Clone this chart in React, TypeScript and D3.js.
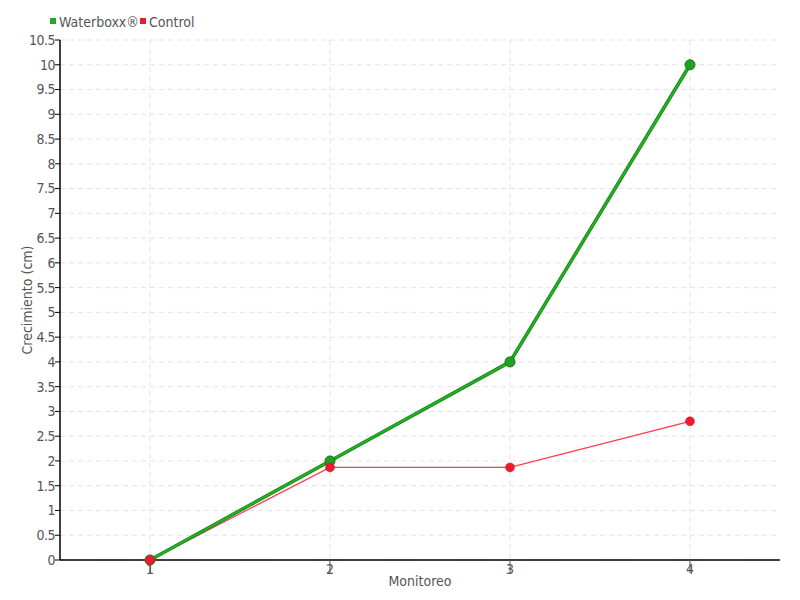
import React from "react";
import * as d3 from "d3";

const categories = ["1", "2", "3", "4"];
const waterboxx = [0, 2, 4, 10];
const control = [0, 1.87, 1.87, 2.8];
const yTicks = d3.range(0, 10.51, 0.5);

const W = 800, H = 600;
const left = 60, right = 780, top = 40, bottom = 560;
const font = "'DejaVu Sans Condensed', 'Liberation Sans Narrow', sans-serif";

export default function App() {
  const x = d3.scaleBand<string>().domain(categories).range([left, right]).padding(0);
  const y = d3.scaleLinear().domain([0, 10.5]).range([bottom, top]);
  const cx = (c: string) => (x(c) as number) + x.bandwidth() / 2;
  const line = d3.line<number>().x((_, i) => cx(categories[i])).y((d) => y(d));

  return (
    <svg width={W} height={H} style={{ position: "absolute", left: 0, top: 0 }} fontFamily={font}>
      <rect width={W} height={H} fill="#fff" />
      {yTicks.map((t) => (
        <line key={"gy" + t} x1={left} x2={right} y1={y(t)} y2={y(t)} stroke="#e3e3e3" strokeDasharray="5,4" />
      ))}
      {categories.map((c) => (
        <line key={"gx" + c} x1={cx(c)} x2={cx(c)} y1={top} y2={bottom} stroke="#e3e3e3" strokeDasharray="5,4" />
      ))}
      {/* axes */}
      <line x1={left} x2={left} y1={top} y2={bottom} stroke="#000" strokeWidth={1.5} />
      <line x1={left} x2={right} y1={bottom} y2={bottom} stroke="#000" strokeWidth={1.5} />
      {yTicks.map((t) => (
        <g key={"ty" + t}>
          <line x1={left - 5} x2={left} y1={y(t)} y2={y(t)} stroke="#000" />
          <text x={left - 5} y={y(t)} dy="0.35em" textAnchor="end" fontSize={14} fill="#555" letterSpacing={-0.5}>
            {d3.format("~g")(t)}
          </text>
        </g>
      ))}
      {categories.map((c) => (
        <g key={"tx" + c}>
          <line x1={cx(c)} x2={cx(c)} y1={bottom} y2={bottom + 13} stroke="#555" />
          <text x={cx(c)} y={bottom + 14} textAnchor="middle" fontSize={14} fill="#555">
            {c}
          </text>
        </g>
      ))}
      <text x={(left + right) / 2} y={586} textAnchor="middle" fontSize={14} fill="#555">
        Monitoreo
      </text>
      <text transform={`translate(32,${(top + bottom) / 2}) rotate(-90)`} textAnchor="middle" fontSize={14} fill="#555">
        Crecimiento (cm)
      </text>
      {/* series */}
      <path d={line(control) as string} fill="none" stroke="#ff3b4a" strokeWidth={1.2} />
      <path d={line(waterboxx) as string} fill="none" stroke="#158a15" strokeWidth={3.5} />
      <path d={line(waterboxx) as string} fill="none" stroke="#2bb52b" strokeWidth={1.5} />
      {waterboxx.map((v, i) => (
        <circle key={"w" + i} cx={cx(categories[i])} cy={y(v)} r={5} fill="#22a022" stroke="#157a15" strokeWidth={1} />
      ))}
      {control.map((v, i) => (
        <circle key={"c" + i} cx={cx(categories[i])} cy={y(v)} r={4.5} fill="#ee1a30" stroke="#d01020" strokeWidth={0.5} />
      ))}
      {/* legend */}
      <rect x={50} y={18} width={6} height={6} fill="#22aa22" />
      <text x={59} y={27} fontSize={14} fill="#555">Waterboxx®</text>
      <rect x={140} y={18} width={6} height={6} fill="#ee1a30" />
      <text x={149} y={27} fontSize={14} fill="#555">Control</text>
    </svg>
  );
}
